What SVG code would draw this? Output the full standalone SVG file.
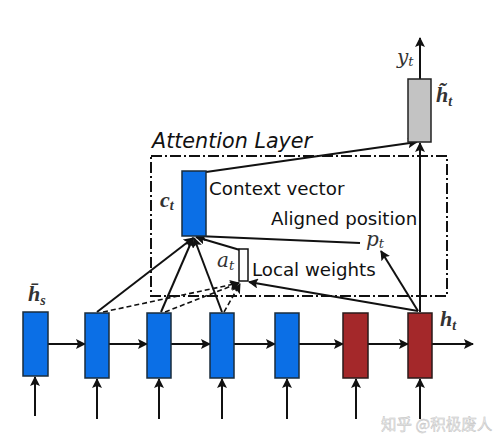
<svg xmlns="http://www.w3.org/2000/svg" width="499" height="444" viewBox="0 0 499 444">
<defs>
<marker id="ah" viewBox="0 0 10 10" refX="9" refY="5" markerWidth="10" markerHeight="10" markerUnits="userSpaceOnUse" orient="auto">
<path d="M0,0 L10,5 L0,10 L2,5 Z" fill="#111"/>
</marker>
<style>
.blue{fill:#0b6fe6;stroke:#1a2c3c;stroke-width:1.5}
.red{fill:#a4282a;stroke:#2a1a1a;stroke-width:1.5}
.gray{fill:#c3c3c3;stroke:#222;stroke-width:1.5}
.white{fill:#fff;stroke:#111;stroke-width:1.5}
.c{stroke:#111;stroke-width:2;fill:none;marker-end:url(#ah)}
.d{stroke:#111;stroke-width:1.6;fill:none;stroke-dasharray:5,3;marker-end:url(#ah)}
.lbl{font-family:"DejaVu Sans",sans-serif;fill:#111}
.m{font-family:"DejaVu Serif","Liberation Serif",serif;font-style:italic;fill:#333}
.mb{font-family:"Liberation Serif",serif;font-style:italic;font-weight:bold;fill:#333}
</style>
</defs>
<rect width="499" height="444" fill="#fff"/>
<rect x="151" y="156" width="296" height="140" fill="none" stroke="#111" stroke-width="2" stroke-dasharray="11,3,2,3"/>
<text class="lbl" x="152" y="148" font-size="20.7" font-style="italic">Attention Layer</text>
<g id="connectors">
<line class="c" x1="48" y1="344" x2="85" y2="344"/>
<line class="c" x1="109" y1="344" x2="147" y2="344"/>
<line class="c" x1="171" y1="344" x2="210" y2="344"/>
<line class="c" x1="234" y1="344" x2="275" y2="344"/>
<line class="c" x1="299" y1="344" x2="343" y2="344"/>
<line class="c" x1="368" y1="344" x2="408" y2="344"/>
<line class="c" x1="432" y1="344" x2="473" y2="344"/>
<line class="c" x1="35" y1="416" x2="35" y2="377"/>
<line class="c" x1="97" y1="419" x2="97" y2="379"/>
<line class="c" x1="159" y1="419" x2="159" y2="379"/>
<line class="c" x1="222" y1="419" x2="222" y2="379"/>
<line class="c" x1="287" y1="419" x2="287" y2="379"/>
<line class="c" x1="356" y1="419" x2="356" y2="379"/>
<line class="c" x1="420" y1="419" x2="420" y2="379"/>
<line class="c" x1="420" y1="312" x2="420" y2="143"/>
<line class="c" x1="206" y1="172" x2="417" y2="142"/>
<line class="c" x1="420" y1="79" x2="420" y2="38"/>
<line class="c" x1="418" y1="311" x2="381" y2="251"/>
<line class="c" x1="360" y1="243" x2="197" y2="236"/>
<line class="c" x1="97" y1="312" x2="193" y2="238"/>
<line class="c" x1="161" y1="312" x2="193" y2="238"/>
<line class="c" x1="222" y1="312" x2="194" y2="238"/>
<line class="c" x1="240" y1="250" x2="196" y2="237"/>
<line class="c" x1="418" y1="311" x2="249" y2="282"/>
<line class="d" x1="103" y1="312" x2="239" y2="283"/>
<line class="d" x1="165" y1="312" x2="239" y2="283"/>
<line class="d" x1="224" y1="312" x2="240" y2="284"/>
</g>
<g id="hs"><rect class="blue" x="23" y="312" width="25" height="64"/></g>
<g id="h2"><rect class="blue" x="85" y="313" width="24" height="65"/></g>
<g id="h3"><rect class="blue" x="147" y="313" width="24" height="65"/></g>
<g id="h4"><rect class="blue" x="210" y="313" width="24" height="65"/></g>
<g id="h5"><rect class="blue" x="275" y="313" width="24" height="65"/></g>
<g id="h6"><rect class="red" x="343" y="313" width="25" height="65"/></g>
<g id="ht"><rect class="red" x="408" y="313" width="24" height="65"/></g>
<g id="ct"><rect class="blue" x="182" y="171" width="24" height="65"/></g>
<g id="htilde"><rect class="gray" x="408" y="79" width="23" height="63"/></g>
<g id="at"><rect class="white" x="239" y="249" width="9" height="32"/></g>
<text class="lbl" x="209" y="195" font-size="18.3">Context vector</text>
<text class="lbl" x="271" y="225" font-size="18.2">Aligned position</text>
<text class="lbl" x="252" y="276" font-size="18.2">Local weights</text>
<text class="mb" x="160" y="207" font-size="22">c<tspan font-size="14" dy="3">t</tspan></text>
<text class="m" x="217" y="267" font-size="20">a<tspan font-size="13" dy="3">t</tspan></text>
<text class="m" x="366" y="246" font-size="20">p<tspan font-size="13" dy="2">t</tspan></text>
<text class="m" x="397" y="64" font-size="20">y<tspan font-size="13" dy="2">t</tspan></text>
<text class="mb" x="436" y="102" font-size="22">h̃<tspan font-size="14" dy="4">t</tspan></text>
<text class="mb" x="440" y="326" font-size="22">h<tspan font-size="14" dy="4">t</tspan></text>
<text class="mb" x="28" y="301" font-size="22">h̄<tspan font-size="14" dy="4">s</tspan></text>
<text x="381" y="430" font-family="'Noto Sans CJK SC',sans-serif" font-size="15.5" fill="#e8e8e8" stroke="#bdbdbd" stroke-width="0.4">知乎 @积极废人</text>
</svg>
